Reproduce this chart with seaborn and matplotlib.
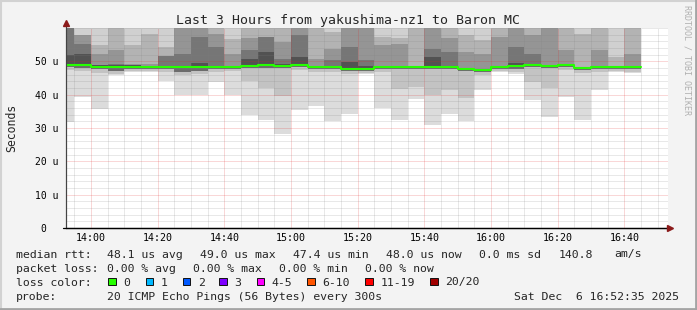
import matplotlib
matplotlib.use("Agg")
import matplotlib.pyplot as plt
import pandas as pd
import seaborn as sns
from matplotlib.lines import Line2D
from matplotlib.patches import Rectangle
from matplotlib.ticker import MultipleLocator, FixedLocator

# ---------------- data ----------------
# end time of each 5-minute step
bar_end_times = ["13:55", "14:00", "14:05", "14:10", "14:15", "14:20", "14:25",
                 "14:30", "14:35", "14:40", "14:45", "14:50", "14:55", "15:00",
                 "15:05", "15:10", "15:15", "15:20", "15:25", "15:30", "15:35",
                 "15:40", "15:45", "15:50", "15:55", "16:00", "16:05", "16:10",
                 "16:15", "16:20", "16:25", "16:30", "16:35", "16:40", "16:45"]

# median rtt (microseconds)
median_us = [49.0, 48.9, 48.3, 48.3, 48.3, 48.4, 48.3, 48.3, 48.3, 48.3,
             48.3, 48.6, 49.0, 48.6, 49.0, 48.2, 48.2, 47.8, 47.8, 48.3,
             48.3, 48.2, 48.3, 48.3, 47.6, 47.4, 48.3, 48.6, 49.0, 48.7,
             49.0, 47.9, 48.3, 48.3, 48.3]

# smoke below the median: lowest ping, then inner boundaries
min_us = [31.9, 39.3, 35.7, 45.8, 46.8, 46.8, 44.1, 40.0, 40.0, 43.8,
          40.0, 34.0, 32.3, 28.2, 35.3, 36.5, 32.1, 34.1, 46.3, 36.0,
          32.3, 38.6, 31.0, 34.1, 32.1, 41.4, 46.8, 46.3, 38.3, 33.2,
          39.4, 32.3, 41.4, 46.8, 46.5]
low_mid_us = [47.3, 47.2, 46.6, 46.3, 47.0, 47.0, 46.8, 46.0, 46.3, 46.8,
              47.0, 44.0, 42.0, 39.6, 47.4, 46.8, 46.7, 46.3, 46.4, 46.8,
              41.8, 42.3, 39.8, 41.3, 39.1, 46.0, 47.0, 46.8, 43.8, 42.1,
              47.4, 46.5, 46.8, 47.0, 46.9]
low_inner_us = [48.2, 48.0, 47.6, 47.0, 47.8, 47.8, 47.7, 46.9, 47.2, 47.6,
                47.8, 47.9, 48.1, 47.9, 48.3, 47.6, 47.6, 47.2, 47.2, 47.7,
                47.6, 47.6, 47.7, 47.6, 47.0, 46.9, 47.8, 47.6, 48.3, 48.0,
                48.3, 47.3, 47.7, 47.8, 47.7]

# smoke above the median (61 = beyond the top of the scale)
up1_us = [52.0, 52.3, 48.8, 48.8, 48.9, 48.5, 48.5, 48.5, 49.5, 48.5,
          48.5, 50.8, 52.8, 49.2, 51.3, 48.5, 48.6, 49.8, 48.5, 48.6,
          48.6, 48.5, 51.3, 48.5, 48.0, 47.8, 48.6, 49.5, 49.3, 49.0,
          49.3, 48.2, 48.6, 48.5, 48.6]
up2_us = [61.0, 55.3, 48.8, 49.3, 48.9, 48.5, 51.5, 52.3, 57.3, 54.3,
          48.5, 53.5, 57.3, 50.8, 57.8, 48.5, 50.3, 54.3, 50.3, 48.6,
          48.6, 48.5, 53.8, 52.8, 48.0, 47.8, 48.6, 54.3, 52.3, 49.0,
          49.3, 48.2, 48.6, 48.5, 48.6]
up3_us = [61.0, 57.8, 52.3, 53.5, 49.2, 49.3, 51.5, 61.0, 61.0, 58.3,
          52.3, 57.0, 57.3, 55.8, 61.0, 50.8, 53.8, 61.0, 61.0, 54.8,
          55.3, 48.6, 61.0, 57.0, 52.8, 52.3, 57.3, 61.0, 57.8, 61.0,
          53.3, 48.4, 53.3, 48.5, 52.3]
up4_us = [61.0, 57.8, 54.8, 61.0, 55.0, 58.3, 54.3, 61.0, 61.0, 61.0,
          56.8, 61.0, 61.0, 61.0, 61.0, 61.0, 58.8, 61.0, 61.0, 57.3,
          57.0, 61.0, 61.0, 61.0, 58.0, 56.3, 61.0, 61.0, 61.0, 61.0,
          61.0, 58.3, 61.0, 51.3, 61.0]

y_tick_values = [0, 10, 20, 30, 40, 50]
y_tick_labels = ["0  ", "10 u", "20 u", "30 u", "40 u", "50 u"]
x_tick_times = ["14:00", "14:20", "14:40", "15:00", "15:20", "15:40",
                "16:00", "16:20", "16:40"]

rtt_stats = ["48.1 us avg", "49.0 us max", "47.4 us min", "48.0 us now",
             "0.0 ms sd", "140.8", "am/s"]
loss_stats = ["0.00 % avg", "0.00 % max", "0.00 % min", "0.00 % now"]
loss_labels = ["0", "1", "2", "3", "4-5", "6-10", "11-19", "20/20"]
loss_colors = ["#26ff00", "#00b8ff", "#0059ff", "#7e00ff", "#ff00ff",
               "#ff5500", "#ff0000", "#a10000"]
title = "Last 3 Hours from yakushima-nz1 to Baron MC"
probe_text = "20 ICMP Echo Pings (56 Bytes) every 300s"
stamp_text = "Sat Dec  6 16:52:35 2025"

# ---------------- figure ----------------
W, H = 697, 310
BG = "#f3f3f3"
MONO = "DejaVu Sans Mono"

sns.set_style("white")
plt.rcParams["font.family"] = [MONO, "DejaVu Sans"]

fig = plt.figure(figsize=(W / 100, H / 100), dpi=100, facecolor=BG)


def fx(x):
    return x / W


def fy(y):
    return 1 - y / H


ax = fig.add_axes([fx(66), fy(228), 602 / W, 200 / H])
ax.set_facecolor("white")


def to_min(t):
    h, m = t.split(":")
    return (int(h) - 13) * 60 + int(m)


step = 5
starts = [to_min(t) - step for t in bar_end_times]
Y_TOP = 60.0
X_LEFT, X_RIGHT = 52.5, 233.1

top_edge = [Y_TOP + 2] * len(starts)
layers = [
    (min_us, low_mid_us, "#dcdcdc"),
    (low_mid_us, low_inner_us, "#c3c3c3"),
    (low_inner_us, median_us, "#6c6c6c"),
    (median_us, up1_us, "#525252"),
    (up1_us, up2_us, "#767676"),
    (up2_us, up3_us, "#959595"),
    (up3_us, up4_us, "#b3b3b3"),
    (up4_us, top_edge, "#d0d0d0"),
]
for lo, hi, col in layers:
    hts = [max(h - l, 0) for l, h in zip(lo, hi)]
    ax.bar(starts, hts, width=step, bottom=lo, align="edge", color=col,
           linewidth=0, antialiased=False, zorder=1)

df = pd.DataFrame({"t": starts + [to_min(bar_end_times[-1])],
                   "rtt": median_us + [median_us[-1]]})
sns.lineplot(data=df, x="t", y="rtt", ax=ax, drawstyle="steps-post",
             color="#26ff00", linewidth=1.5, estimator=None, zorder=3)

ax.set_xlim(X_LEFT, X_RIGHT)
ax.set_ylim(0, Y_TOP)
ax.set_xlabel("")
ax.set_ylabel("")

ax.xaxis.set_major_locator(FixedLocator([to_min(t) for t in x_tick_times]))
ax.set_xticklabels(x_tick_times)
ax.xaxis.set_minor_locator(MultipleLocator(5))
ax.set_yticks(y_tick_values)
ax.set_yticklabels(y_tick_labels)
ax.yaxis.set_minor_locator(MultipleLocator(2))

ax.tick_params(axis="x", which="both", length=0, pad=3.9, labelsize=7.2,
               labelcolor="#000000")
ax.tick_params(axis="y", which="both", length=0, pad=5.3, labelsize=7.0,
               labelcolor="#000000")

ax.set_axisbelow(False)
ax.grid(which="minor", color="#808080", alpha=0.35, linestyle=(0, (1, 1)),
        linewidth=0.72)
ax.grid(which="major", color="#e02020", alpha=0.35, linestyle=(0, (1, 1)),
        linewidth=0.72)

for s in ("top", "right"):
    ax.spines[s].set_visible(False)
ax.spines["left"].set_color("#444444")
ax.spines["left"].set_linewidth(0.8)
ax.spines["bottom"].set_color("#000000")
ax.spines["bottom"].set_linewidth(0.9)

# axis extensions and arrows
fig.add_artist(Line2D([fx(66), fx(66)], [fy(228), fy(24)], color="#444444",
                      linewidth=0.8))
fig.add_artist(Line2D([fx(63), fx(669)], [fy(228), fy(228)], color="#000000",
                      linewidth=0.9))
fig.add_artist(Line2D([fx(66)], [fy(23)], marker="^", markersize=4.2,
                      color="#8b1a1a", linestyle="none"))
fig.add_artist(Line2D([fx(670)], [fy(228)], marker=">", markersize=4.2,
                      color="#8b1a1a", linestyle="none"))

# frame
fig.add_artist(Line2D([0, 1], [fy(0.8), fy(0.8)], color="#d2d2d2", linewidth=1.5))
fig.add_artist(Line2D([fx(0.8), fx(0.8)], [0, 1], color="#d2d2d2", linewidth=1.5))
fig.add_artist(Line2D([0, 1], [fy(309), fy(309)], color="#a4a4a4", linewidth=2.0))
fig.add_artist(Line2D([fx(696), fx(696)], [0, 1], color="#a4a4a4", linewidth=2.0))

# texts
fig.text(fx(348), fy(24), title, ha="center", va="baseline", fontsize=9.5,
         family=MONO)
fig.text(fx(11.5), fy(128), "Seconds", rotation=90, ha="center", va="center",
         fontsize=8.3, family=MONO)
fig.text(fx(687.5), fy(60), "RRDTOOL / TOBI OETIKER", rotation=270,
         ha="center", va="center", fontsize=6.0, color="#b0b0b0", family=MONO)

LFS = 8.25
row1_x = [107.3, 200.0, 292.7, 386.3, 479.3, 558.3, 614.7]
fig.text(fx(16), fy(257.5), "median rtt:", fontsize=LFS, family=MONO, va="baseline")
for s, x in zip(rtt_stats, row1_x):
    fig.text(fx(x), fy(257.5), s, fontsize=LFS, family=MONO, va="baseline")

row2_x = [107.3, 193.3, 279.3, 365.3]
fig.text(fx(16), fy(271.7), "packet loss:", fontsize=LFS, family=MONO, va="baseline")
for s, x in zip(loss_stats, row2_x):
    fig.text(fx(x), fy(271.7), s, fontsize=LFS, family=MONO, va="baseline")

box_x = [108.3, 145.7, 182.7, 219.3, 256.7, 307.3, 365.3, 430.3]
fig.text(fx(16), fy(285.5), "loss color:", fontsize=LFS, family=MONO, va="baseline")
for lab, col, x in zip(loss_labels, loss_colors, box_x):
    fig.add_artist(Rectangle((fx(x), fy(285.3)), 7.3 / W, 7.3 / H,
                             transform=fig.transFigure, facecolor=col,
                             edgecolor="#111111", linewidth=0.7))
    fig.text(fx(x + 15), fy(285.5), lab, fontsize=LFS, family=MONO, va="baseline")

fig.text(fx(16), fy(299.8), "probe:", fontsize=LFS, family=MONO, va="baseline")
fig.text(fx(107.3), fy(299.8), probe_text, fontsize=LFS, family=MONO, va="baseline")
fig.text(fx(513.7), fy(299.8), stamp_text, fontsize=LFS, family=MONO, va="baseline")

fig.savefig("out.png", dpi=100, facecolor=BG)
